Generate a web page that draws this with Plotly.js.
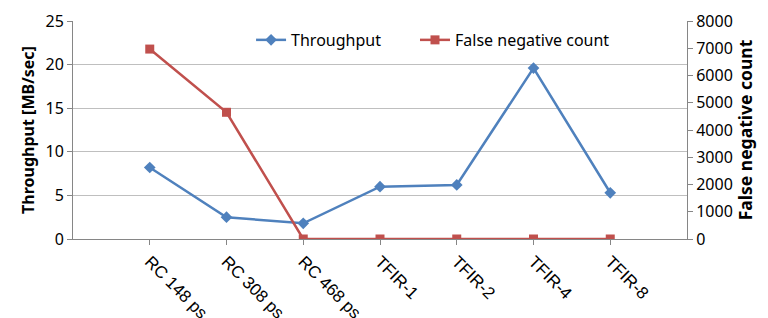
<!DOCTYPE html>
<html><head><meta charset="utf-8">
<script src="https://cdn.plot.ly/plotly-3.0.1.min.js"></script>
<style>html,body{margin:0;padding:0;background:#fff}#c{width:768px;height:318px}</style>
</head><body><div id="c"></div>
<script>
var categories = ["RC 148 ps","RC 308 ps","RC 468 ps","TFIR-1","TFIR-2","TFIR-4","TFIR-8"];
var throughput = [8.2, 2.5, 1.8, 6.0, 6.2, 19.6, 5.3];
var falseNegatives = [6970, 4650, 0, 0, 0, 0, 0];
var yTicks = [0,5,10,15,20,25];
var y2Ticks = [0,1000,2000,3000,4000,5000,6000,7000,8000];

var idx = categories.map(function(_, i){ return i; });
var traces = [
  {x: idx, y: throughput, name: "Throughput", type: "scatter", mode: "lines+markers",
   line: {color: "#4F81BD", width: 2.5}, marker: {symbol: "diamond", size: 9, color: "#4F81BD"}},
  {x: idx, y: falseNegatives, name: "False negative count", type: "scatter", mode: "lines+markers",
   yaxis: "y2", legend: "legend2", line: {color: "#C0504D", width: 2.5}, marker: {symbol: "square", size: 9, color: "#C0504D"}}
];
var tickFont = {family: "Noto Sans, sans-serif", size: 16, color: "#000"};
var legFont = {family: "Noto Sans, sans-serif", size: 16, color: "#000"};
var layout = {
  width: 768, height: 318,
  margin: {l: 73, r: 81, t: 21, b: 79},
  paper_bgcolor: "#fff", plot_bgcolor: "#fff",
  showlegend: true,
  legend: {orientation: "h", x: 0.29, y: 0.913, xanchor: "left", yanchor: "middle",
    font: legFont, bgcolor: "rgba(0,0,0,0)", itemwidth: 30},
  legend2: {orientation: "h", x: 0.557, y: 0.913, xanchor: "left", yanchor: "middle",
    font: legFont, bgcolor: "rgba(0,0,0,0)", itemwidth: 30},
  xaxis: {range: [-1, 7], tickmode: "array", tickvals: idx, ticktext: categories,
    tickangle: 45, showgrid: false, zeroline: false, showline: true, linecolor: "#868686", linewidth: 1,
    ticks: "outside", ticklen: 5, tickcolor: "#868686",
    tickfont: {family: "Liberation Sans, Arial, sans-serif", size: 17, color: "#000"}},
  yaxis: {range: [0, 25], tickmode: "array", tickvals: yTicks, showgrid: true, gridcolor: "#BFBFBF",
    zeroline: false, showline: true, linecolor: "#868686", ticks: "outside", ticklen: 5, tickcolor: "#868686",
    tickfont: tickFont,
    title: {text: "Throughput [MB/sec]", font: {family: "Noto Sans, sans-serif", size: 16, color: "#000", weight: "bold"}, standoff: 6}},
  yaxis2: {range: [0, 8000], tickmode: "array", tickvals: y2Ticks, overlaying: "y", side: "right",
    showgrid: false, zeroline: false, showline: true, linecolor: "#868686", ticks: "outside", ticklen: 5,
    tickcolor: "#868686", tickfont: tickFont,
    title: {text: "False negative count", font: {family: "Noto Sans, sans-serif", size: 17.5, color: "#000", weight: "bold"}, standoff: 6}}
};
Plotly.newPlot("c", traces, layout, {displayModeBar: false, staticPlot: true});
</script></body></html>
